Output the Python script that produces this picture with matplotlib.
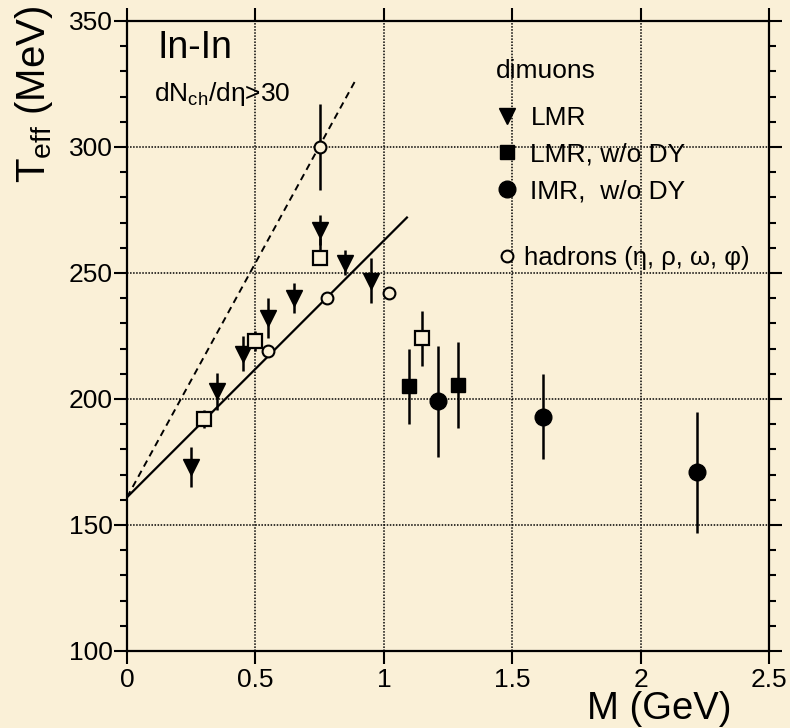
import numpy as np
import matplotlib
matplotlib.use('Agg')
import matplotlib.pyplot as plt
from matplotlib.lines import Line2D

plt.rcParams['font.family'] = ['Liberation Sans', 'DejaVu Sans']
plt.rcParams['mathtext.fontset'] = 'custom'
plt.rcParams['mathtext.rm'] = 'Liberation Sans'
plt.rcParams['mathtext.it'] = 'Liberation Sans:italic'

bg = '#faf0d7'

# dimuons, LMR (filled triangles)
lmr_m = [0.25, 0.35, 0.45, 0.55, 0.65, 0.75, 0.85, 0.95]
lmr_t = [173, 203, 218, 232, 240, 267, 254, 247]
lmr_err = [8, 7.5, 7, 8, 6, 6, 5, 9]

# dimuons, LMR w/o DY (open squares, asymmetric errors)
lmr_open_m = [0.30, 0.50, 0.75, 1.15]
lmr_open_t = [192, 223, 256, 224]
lmr_open_lo = [3.5, 4, 2, 11]
lmr_open_hi = [3.5, 4, 8, 11]

# dimuons, LMR w/o DY (filled squares)
lmr_dy_m = [1.10, 1.29]
lmr_dy_t = [205, 205.5]
lmr_dy_err = [15, 17]

# dimuons, IMR w/o DY
imr_m = [1.21, 1.62, 2.22]
imr_t = [199, 193, 171]
imr_err = [22, 17, 24]

# hadrons eta, rho, omega, phi
had_m = [0.55, 0.75, 0.78, 1.02]
had_t = [219, 300, 240, 242]
had_err = [0, 17, 0, 0]

# straight-line fits
solid_m = [0.0, 1.09]
solid_t = [161, 272]
dashed_m = [0.0, 0.89]
dashed_t = [161, 326.5]

fig = plt.figure(figsize=(7.9, 7.28), dpi=100, facecolor=bg)
ax = fig.add_axes([0.1608, 0.1058, 0.8126, 0.8654], facecolor=bg)

ax.plot(solid_m, solid_t, color='black', lw=1.6, zorder=3)
ax.plot(dashed_m, dashed_t, color='black', lw=1.4, ls=(0, (3.5, 2.5)), zorder=3)

eb = dict(ls='none', ecolor='black', elinewidth=1.8, capsize=0, zorder=4)
ax.errorbar(lmr_m, lmr_t, yerr=lmr_err, marker='v', ms=12, mfc='black', mec='black', **eb)
ax.errorbar(lmr_open_m, lmr_open_t, yerr=[lmr_open_lo, lmr_open_hi], marker='s', ms=10,
            mfc=bg, mec='black', mew=1.6, **eb)
ax.errorbar(lmr_dy_m, lmr_dy_t, yerr=lmr_dy_err, marker='s', ms=10, mfc='black', mec='black', **eb)
ax.errorbar(imr_m, imr_t, yerr=imr_err, marker='o', ms=12, mfc='black', mec='black', **eb)
ax.errorbar(had_m, had_t, yerr=had_err, marker='o', ms=8.5, mfc=bg, mec='black', mew=1.5, **eb)

ax.set_xlim(0, 2.5)
ax.set_ylim(100, 350)
ax.set_xticks([0, 0.5, 1, 1.5, 2, 2.5])
ax.set_xticklabels(['0', '0.5', '1', '1.5', '2', '2.5'])
ax.set_yticks([100, 150, 200, 250, 300, 350])
ax.set_yticks(np.arange(100, 351, 10), minor=True)
ax.tick_params(which='both', direction='out', top=True, right=True, width=1.5,
               labelsize=19, colors='black')
ax.tick_params(which='major', length=9.5)
ax.tick_params(which='minor', length=5, top=False, bottom=False)
ax.tick_params(axis='y', pad=1)
ax.tick_params(axis='x', pad=3)
for s in ax.spines.values():
    s.set_linewidth(1.6)

ax.grid(True, which='major', color='black', lw=1.1, ls=(0, (1, 1)), zorder=1)

fig.text(0.834, 0.013, 'M (GeV)', fontsize=27.5, ha='center', va='baseline')
fig.text(0.043, 0.87, r'T$_{\rm eff}$ (MeV)', fontsize=29, rotation=90, ha='center', va='center')

ax.text(0.047, 0.985, 'In-In', transform=ax.transAxes, fontsize=27, va='top')
ax.text(0.042, 0.906, r'dN$_{\rm ch}$/dη>30', transform=ax.transAxes, fontsize=19, va='top')

ax.text(0.575, 0.92, 'dimuons', transform=ax.transAxes, fontsize=19, va='center')
h_lmr = Line2D([], [], ls='none', marker='v', ms=12, color='black')
h_sq = Line2D([], [], ls='none', marker='s', ms=10, color='black')
h_imr = Line2D([], [], ls='none', marker='o', ms=12, color='black')
leg1 = ax.legend([h_lmr, h_sq, h_imr], ['LMR', 'LMR, w/o DY', 'IMR,  w/o DY'],
                 fontsize=19, loc='upper left', bbox_to_anchor=(0.575, 0.865), frameon=False,
                 borderpad=0, borderaxespad=0, handlelength=0.85, handletextpad=0.45,
                 labelspacing=0.48)
ax.add_artist(leg1)
h_had = Line2D([], [], ls='none', marker='o', ms=8.5, mfc=bg, mec='black', mew=1.5)
ax.legend([h_had], ['hadrons (η, ρ, ω, φ)'], fontsize=18.5, loc='upper left',
          bbox_to_anchor=(0.575, 0.643), frameon=False, borderpad=0, borderaxespad=0,
          handlelength=0.85, handletextpad=0.25)

fig.savefig('out.png', dpi=100, facecolor=bg)
